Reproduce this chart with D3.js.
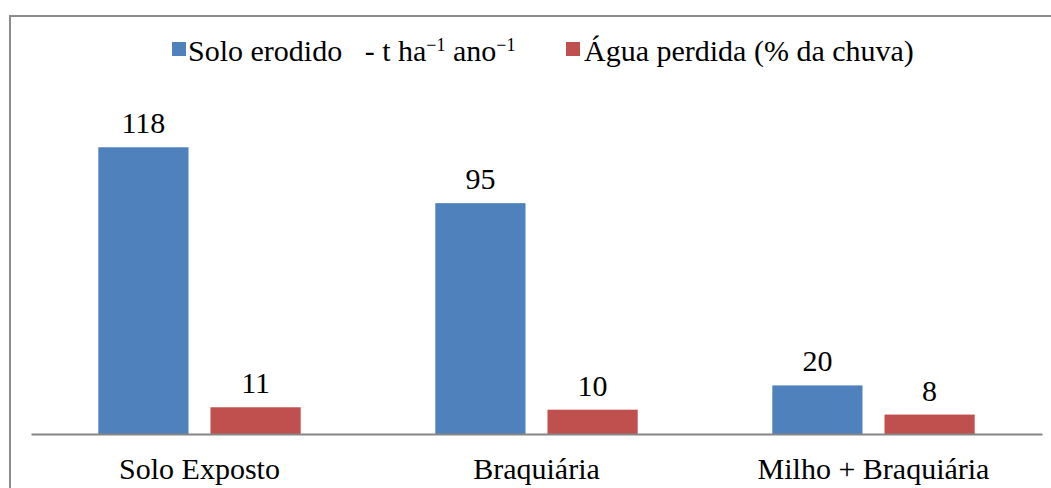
<!DOCTYPE html>
<html>
<head>
<meta charset="utf-8">
<script src="https://cdn.jsdelivr.net/npm/d3@7"></script>
<style>
    body { margin: 0; background: #fff; }
</style>
</head>
<body>
<div id="chart"></div>
<script>
var categories = ["Solo Exposto", "Braquiária", "Milho + Braquiária"];
var soloErodido = [118, 95, 20];
var aguaPerdida = [11, 10, 8];
var seriesNames = ["solo", "agua"];
var seriesColors = ["#4f81bd", "#c0504d"];

function init() {
    var w = 1051;
    var h = 488;
    var baseline = 434;
    var fontSize = "30px";

    var svg = d3.select("#chart")
        .append("svg")
        .attr("width", w)
        .attr("height", h);

    // outer frame, cut by the right and bottom edge
    svg.append("rect")
        .attr("x", 10)
        .attr("y", 16)
        .attr("width", w + 20)
        .attr("height", h + 20)
        .attr("fill", "none")
        .attr("stroke", "#8c8c8c")
        .attr("stroke-width", 2);

    var x0 = d3.scaleBand()
        .domain(categories)
        .range([31, 1042]);

    var x1 = d3.scaleBand()
        .domain(seriesNames)
        .range([0, x0.bandwidth()])
        .paddingInner(0.196)
        .paddingOuter(0.6);

    var y = d3.scaleLinear()
        .domain([0, 140])
        .range([baseline, baseline - 140 * 2.43]);

    var rows = categories.map(function (c, i) {
        return { cat: c, values: [soloErodido[i], aguaPerdida[i]] };
    });

    var groups = svg.selectAll("g.cat")
        .data(rows)
        .enter()
        .append("g")
        .attr("class", "cat")
        .attr("transform", function (d) { return "translate(" + x0(d.cat) + ",0)"; });

    groups.selectAll("rect")
        .data(function (d) { return d.values; })
        .enter()
        .append("rect")
        .attr("x", function (d, i) { return x1(seriesNames[i]); })
        .attr("y", function (d) { return y(d); })
        .attr("width", x1.bandwidth())
        .attr("height", function (d) { return baseline - y(d); })
        .attr("fill", function (d, i) { return seriesColors[i]; });

    groups.selectAll("text")
        .data(function (d) { return d.values; })
        .enter()
        .append("text")
        .text(function (d) { return d; })
        .attr("x", function (d, i) { return x1(seriesNames[i]) + x1.bandwidth() / 2; })
        .attr("y", function (d) { return y(d) - 14; })
        .style("font-family", "Liberation Serif")
        .style("font-size", fontSize)
        .attr("fill", "#000")
        .attr("text-anchor", "middle");

    // x axis
    var xAxis = d3.axisBottom(x0).tickSize(0).tickPadding(24);
    var ax = svg.append("g")
        .attr("transform", "translate(0," + baseline + ")")
        .call(xAxis);
    ax.select(".domain")
        .attr("stroke", "#868686")
        .attr("stroke-width", 2);
    ax.selectAll("text")
        .style("font-family", "Liberation Serif")
        .style("font-size", fontSize)
        .attr("fill", "#000");

    // legend
    var legend = svg.append("g");
    var legendX = [172, 566];
    legend.selectAll("rect")
        .data(seriesColors)
        .enter()
        .append("rect")
        .attr("x", function (d, i) { return legendX[i]; })
        .attr("y", 42)
        .attr("width", 14)
        .attr("height", 14)
        .attr("fill", function (d) { return d; });

    var t1 = legend.append("text")
        .attr("x", legendX[0] + 16)
        .attr("y", 61)
        .style("font-family", "Liberation Serif")
        .style("font-size", fontSize)
        .style("white-space", "pre");
    t1.append("tspan").text("Solo erodido   - t ha");
    t1.append("tspan").text("−1").style("font-size", "18px").attr("dy", -10);
    t1.append("tspan").text(" ano").attr("dy", 10);
    t1.append("tspan").text("−1").style("font-size", "18px").attr("dy", -10);

    legend.append("text")
        .attr("x", legendX[1] + 18)
        .attr("y", 61)
        .style("font-family", "Liberation Serif")
        .style("font-size", fontSize)
        .text("Água perdida (% da chuva)");
}

window.onload = init;
</script>
</body>
</html>
